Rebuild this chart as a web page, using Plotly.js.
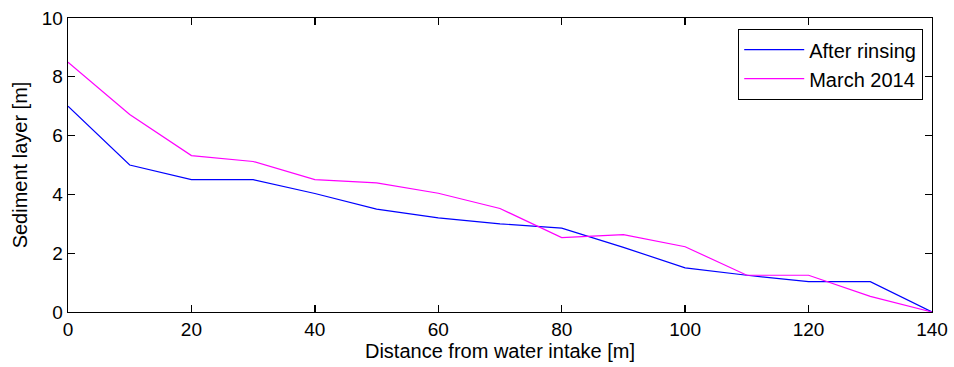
<!DOCTYPE html>
<html><head><meta charset="utf-8">
<script src="https://cdn.plot.ly/plotly-3.0.1.min.js"></script>
<style>body{margin:0;background:#fff}#c{width:954px;height:367px}</style>
</head><body><div id="c"></div>
<script>
const distance = [0,10,20,30,40,50,60,70,80,90,100,110,120,130,140];
const afterRinsing = [7.0,5.0,4.5,4.5,4.03,3.5,3.2,3.0,2.85,2.2,1.5,1.25,1.03,1.03,0];
const march2014 = [8.5,6.72,5.32,5.12,4.5,4.39,4.04,3.52,2.53,2.63,2.22,1.25,1.25,0.53,0];
const xTicks = [0,20,40,60,80,100,120,140];
const yTicks = [0,2,4,6,8,10];

const fam = '"Liberation Sans", Arial, sans-serif';
const tickFont = {family:fam, size:19, color:'#000'};
const labelFont = {family:fam, size:20, color:'#000'};
const axisCommon = {showline:true, mirror:'ticks', linecolor:'#000', linewidth:1.3,
  ticks:'inside', ticklen:7, tickwidth:1.3, tickcolor:'#000', showgrid:false, zeroline:false,
  tickfont:tickFont};
Plotly.newPlot('c', [
  {x:distance, y:afterRinsing, mode:'lines', name:'After rinsing', line:{color:'#0000ff', width:1.2}},
  {x:distance, y:march2014, mode:'lines', name:'March 2014', line:{color:'#ff00ff', width:1.2}}
], {
  width:954, height:367, margin:{l:68, r:22, t:18, b:55},
  paper_bgcolor:'#fff', plot_bgcolor:'#fff', font:labelFont,
  xaxis:Object.assign({}, axisCommon, {range:[0,140], tickvals:xTicks,
    title:{text:'Distance from water intake [m]', font:labelFont, standoff:3}}),
  yaxis:Object.assign({}, axisCommon, {range:[0,10], tickvals:yTicks,
    title:{text:'Sediment layer [m]', font:labelFont, standoff:8}}),
  legend:{x:0.9896, y:0.9626, xanchor:'right', yanchor:'top', bgcolor:'#fff',
    bordercolor:'#000', borderwidth:1.2, font:labelFont, itemwidth:60, tracegroupgap:0},
  showlegend:true
}, {staticPlot:true});
</script></body></html>
